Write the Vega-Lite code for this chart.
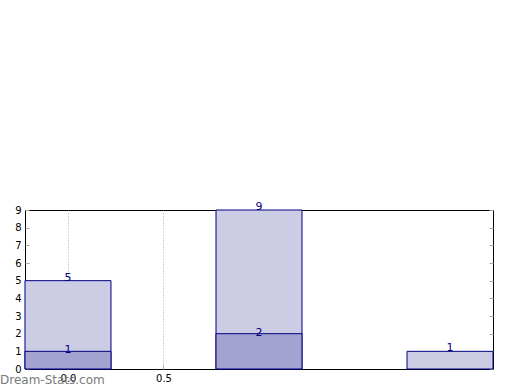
{
  "$schema": "https://vega.github.io/schema/vega-lite/v6.json",
  "autosize": "none",
  "width": 468,
  "height": 159,
  "padding": {"left": 25, "top": 210, "right": 27, "bottom": 21},
  "background": "white",
  "config": {
    "font": "DejaVu Sans",
    "view": {"stroke": "#000000", "strokeWidth": 1},
    "axis": {"labelFont": "DejaVu Sans", "labelFontSize": 10, "labelColor": "#000000", "domain": false, "title": null, "labelOverlap": false, "labelBound": false, "labelFlush": false}
  },
  "title": {
    "text": "Dream-Stats.com",
    "orient": "bottom",
    "anchor": "start",
    "frame": "group",
    "font": "DejaVu Sans",
    "fontSize": 12,
    "fontWeight": "normal",
    "color": "#7a7a7a",
    "baseline": "alphabetic",
    "dx": -25,
    "offset": 0,
    "dy": 1
  },
  "data": {
    "values": [
      {"x": 0, "total": 5, "sub": 1},
      {"x": 1, "total": 9, "sub": 2},
      {"x": 2, "total": 1, "sub": 0}
    ]
  },
  "layer": [
    {
      "layer": [
        {
          "mark": {"type": "bar", "orient": "vertical", "width": 86, "fill": "#ccccE5", "stroke": "#000080", "strokeWidth": 1},
          "encoding": {
            "x": {"field": "x", "type": "quantitative", "scale": {"domain": [-0.225, 2.225], "nice": false, "zero": false, "padding": 0},
              "axis": {"values": [0, 0.5], "format": ".1f", "grid": true, "gridColor": "#aaaaaa", "gridDash": [1, 2], "tickSize": -4, "tickColor": "#aaaaaa", "labelPadding": 8}},
            "y": {"field": "total", "type": "quantitative", "scale": {"domain": [0, 9], "nice": false, "padding": 0}, "axis": null}
          }
        },
        {
          "transform": [{"filter": "datum.sub > 0"}],
          "mark": {"type": "bar", "orient": "vertical", "width": 86, "fill": "#a3a3d0", "stroke": "#000080", "strokeWidth": 1},
          "encoding": {
            "x": {"field": "x", "type": "quantitative"},
            "y": {"field": "sub", "type": "quantitative", "axis": null}
          }
        },
        {
          "mark": {"type": "text", "baseline": "alphabetic", "align": "center", "fontSize": 11, "color": "#000080", "font": "DejaVu Sans"},
          "encoding": {
            "x": {"field": "x", "type": "quantitative"},
            "y": {"field": "total", "type": "quantitative", "axis": null},
            "text": {"field": "total", "type": "quantitative"}
          }
        },
        {
          "transform": [{"filter": "datum.sub > 0"}],
          "mark": {"type": "text", "baseline": "alphabetic", "align": "center", "fontSize": 11, "color": "#000080", "font": "DejaVu Sans", "dy": 2},
          "encoding": {
            "x": {"field": "x", "type": "quantitative"},
            "y": {"field": "sub", "type": "quantitative", "axis": null},
            "text": {"field": "sub", "type": "quantitative"}
          }
        }
      ]
    },
    {
      "mark": {"type": "bar", "orient": "vertical", "width": 86, "opacity": 0},
      "encoding": {
        "x": {"field": "x", "type": "quantitative"},
        "y": {"field": "total", "type": "quantitative",
          "axis": {"orient": "left", "values": [0,1,2,3,4,5,6,7,8,9], "format": "d", "grid": false, "tickSize": -4, "tickColor": "#aaaaaa", "labelPadding": 8}}
      }
    },
    {
      "mark": {"type": "bar", "orient": "vertical", "width": 86, "opacity": 0},
      "encoding": {
        "x": {"field": "x", "type": "quantitative"},
        "y": {"field": "total", "type": "quantitative",
          "axis": {"orient": "right", "values": [0,1,2,3,4,5,6,7,8,9], "labels": false, "grid": false, "tickSize": -4, "tickColor": "#aaaaaa"}}
      }
    }
  ],
  "resolve": {"axis": {"y": "independent"}}
}
